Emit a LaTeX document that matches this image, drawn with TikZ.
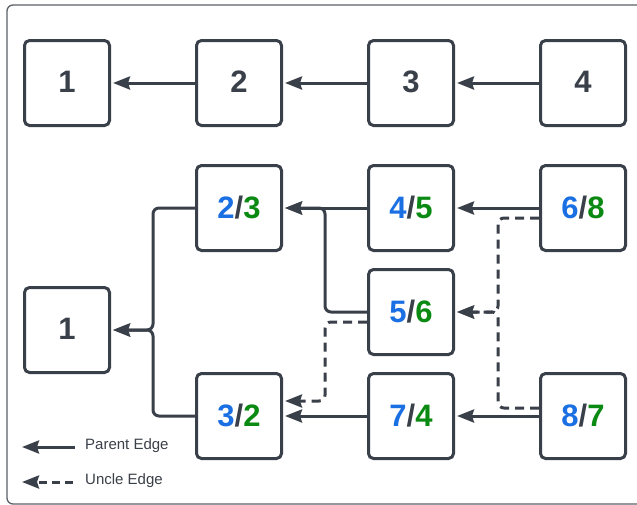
\documentclass[tikz,border=0pt]{standalone}
\usepackage{fontspec}
\setmainfont{Liberation Sans}
\usetikzlibrary{arrows.meta,calc}
\definecolor{ink}{HTML}{3A4049}
\definecolor{idblue}{HTML}{1A6FE3}
\definecolor{idgreen}{HTML}{0A8A12}
\definecolor{framegray}{HTML}{5C6168}
\tikzset{
  vbox/.style={draw=ink, line width=3pt, rounded corners=5pt, fill=white,
    minimum width=85pt, minimum height=85pt, inner sep=0pt,
    text=ink, font=\fontsize{31}{33}\selectfont\bfseries},
  parent/.style={draw=ink, line width=3pt, rounded corners=6pt,
    -{Stealth[length=17pt,width=13pt,inset=2pt]}, shorten >=2pt},
  uncle/.style={parent, dash pattern=on 9pt off 6pt},
  legendtext/.style={text=ink, font=\fontsize{15}{17}\selectfont, anchor=west, inner sep=0pt},
}
\newcommand{\pair}[2]{\textcolor{idblue}{#1}/\textcolor{idgreen}{#2}}
\begin{document}
\begin{tikzpicture}[x=1pt,y=-1pt]
  \useasboundingbox (0,0) rectangle (637,504);
  \clip (0,0) rectangle (637,504);
  \fill[white] (0,0) rectangle (637,504);
  % outer frame
  \draw[framegray, line width=1.3pt, rounded corners=6pt] (7,5) rectangle (680,504);

  % chain of plain ids
  \node[vbox] (a1) at (67,83) {\raisebox{2pt}{1}};
  \node[vbox] (a2) at (239,83) {\raisebox{2pt}{2}};
  \node[vbox] (a3) at (411,83) {\raisebox{2pt}{3}};
  \node[vbox] (a4) at (583,83) {\raisebox{2pt}{4}};
  \draw[parent] (a2.west) -- (a1.east);
  \draw[parent] (a3.west) -- (a2.east);
  \draw[parent] (a4.west) -- (a3.east);

  % tree of id pairs
  \node[vbox] (b1)  at (67,330)  {\raisebox{2pt}{1}};
  \node[vbox] (b23) at (239,208) {\pair{2}{3}};
  \node[vbox] (b32) at (239,416) {\pair{3}{2}};
  \node[vbox] (b45) at (411,208) {\pair{4}{5}};
  \node[vbox] (b56) at (411,312) {\pair{5}{6}};
  \node[vbox] (b74) at (411,416) {\pair{7}{4}};
  \node[vbox] (b68) at (583,208) {\pair{6}{8}};
  \node[vbox] (b87) at (583,416) {\pair{8}{7}};

  % junction points of merged edges
  \coordinate (jl) at (153,330);
  \coordinate (jm) at (325,208);
  \coordinate (jd) at (325,401);
  \coordinate (jr) at (498,312);

  % parent edges
  \draw[parent] (b23.west) -| (jl) -- (b1.east);
  \draw[parent] (b32.west) -| (jl) -- (b1.east);
  \draw[parent] (b45.west) -- (b23.east);
  \draw[parent] (b56.west) -| (jm) -- (b23.east);
  \draw[parent] (b68.west) -- (b45.east);
  \draw[parent] (b74.west) -- (b32.east);
  \draw[parent] (b87.west) -- (b74.east);

  % uncle edges
  \draw[uncle] ($(b56.west)+(0,10)$) -| (jd) -- ($(b32.east)+(0,-15)$);
  \draw[uncle] ($(b68.west)+(0,10)$) -| (jr) -- (b56.east);
  \draw[uncle] ($(b87.west)+(0,-8)$) -| (jr) -- (b56.east);

  % legend
  \coordinate (lp1) at (75,447);
  \coordinate (lp0) at (22,447);
  \coordinate (lu1) at (73,482);
  \coordinate (lu0) at (22,482);
  \draw[parent, shorten >=0pt] (lp1) -- (lp0);
  \draw[uncle, shorten >=0pt, dash pattern=on 8pt off 5pt] (lu1) -- (lu0);
  \node[legendtext] (lpt) at (85,446) {Parent Edge};
  \node[legendtext] (lut) at (85,481) {Uncle Edge};
\end{tikzpicture}
\end{document}
